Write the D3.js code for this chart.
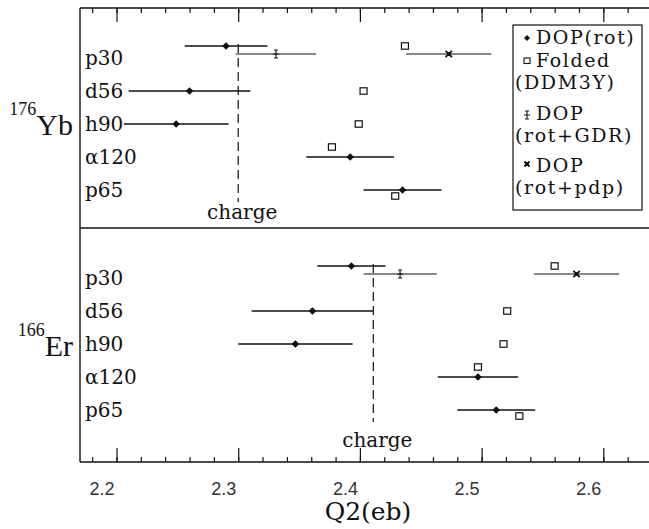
<!DOCTYPE html>
<html>
<head>
<meta charset="utf-8">
<script src="https://cdn.jsdelivr.net/npm/d3@7"></script>
<style>
  html, body { margin: 0; padding: 0; background: #fff; }
  svg { display: block; }
</style>
</head>
<body>
<svg id="chart"></svg>
<script>
// Q2 (eb) of 176Yb and 166Er from several probes

const reactions = ['p30', 'd56', 'h90', 'α120', 'p65'];
const nucleusMass = ['176', '166'];
const nucleusSymbol = ['Yb', 'Er'];
const chargeQ2 = [2.300, 2.411];

// DOP(rot) with errors, Folded (DDM3Y) per reaction
const dopRotYb = [2.290, 2.260, 2.249, 2.392, 2.435];
const dopRotErrYb = [0.034, 0.050, 0.043, 0.036, 0.032];
const foldedYb = [2.437, 2.403, 2.399, 2.377, 2.429];
const dopRotEr = [2.393, 2.361, 2.347, 2.497, 2.512];
const dopRotErrEr = [0.028, 0.050, 0.047, 0.033, 0.032];
const foldedEr = [2.560, 2.521, 2.518, 2.497, 2.531];

// only p30 has the GDR and pdp variants  [Yb, Er]
const dopGdrQ2 = [2.331, 2.433];
const dopGdrErr = [0.033, 0.030];
const dopPdpQ2 = [2.473, 2.578];
const dopPdpErr = [0.035, 0.035];

const xMajorTicks = [2.2, 2.3, 2.4, 2.5, 2.6];
const xMinorTicks = d3.range(109, 132).map(i => i / 50);
const legendLines = [['DOP(rot)'], ['Folded', '(DDM3Y)'], ['DOP', '(rot+GDR)'], ['DOP', '(rot+pdp)']];

const width = 649, height = 529;
const serif = '"DejaVu Serif", serif';
const ink = '#111';

const svg = d3.select('#chart')
  .attr('width', width)
  .attr('height', height);

svg.append('rect').attr('width', width).attr('height', height).attr('fill', '#fff');

const x = d3.scaleLinear().domain([2.17, 2.64]).range([80, 652]);
const frameTop = 8, frameMid = 228, frameBottom = 462;

const panels = [
  { mass: nucleusMass[0], symbol: nucleusSymbol[0], charge: chargeQ2[0],
    dop: dopRotYb, err: dopRotErrYb, folded: foldedYb,
    gdr: dopGdrQ2[0], gdrErr: dopGdrErr[0], pdp: dopPdpQ2[0], pdpErr: dopPdpErr[0],
    rows: [58, 190], chargeY: 219, nameY: 135 },
  { mass: nucleusMass[1], symbol: nucleusSymbol[1], charge: chargeQ2[1],
    dop: dopRotEr, err: dopRotErrEr, folded: foldedEr,
    gdr: dopGdrQ2[1], gdrErr: dopGdrErr[1], pdp: dopPdpQ2[1], pdpErr: dopPdpErr[1],
    rows: [278, 410], chargeY: 447, nameY: 356 }
];

// vertical nudges used in the original to keep markers apart
const dopShift = { 'p30': -12 };
const foldedShift = { 'p30': -12, 'α120': -10, 'p65': 6 };
const variantShift = -4;

const diamond = r => `M0,${-r}L${r},0L0,${r}L${-r},0Z`;

function drawGdr(g, cx, cy) {
  g.append('path')
    .attr('d', `M${cx},${cy - 4}V${cy + 4}M${cx - 2},${cy - 4}H${cx + 2}M${cx - 2},${cy + 4}H${cx + 2}M${cx - 3},${cy}H${cx + 3}`)
    .attr('stroke', ink).attr('stroke-width', 1.1).attr('fill', 'none');
}
function drawPdp(g, cx, cy, r) {
  g.append('path')
    .attr('d', `M${cx - r},${cy - r}L${cx + r},${cy + r}M${cx - r},${cy + r}L${cx + r},${cy - r}`)
    .attr('stroke', ink).attr('stroke-width', 1.8).attr('fill', 'none');
  g.append('rect')
    .attr('x', cx - 1.8).attr('y', cy - 1.8).attr('width', 3.6).attr('height', 3.6).attr('fill', ink);
}

// Frame
const frame = svg.append('g').attr('stroke', ink).attr('stroke-width', 1.4);
frame.append('line').attr('x1', x(2.17)).attr('x2', width).attr('y1', frameTop).attr('y2', frameTop);
frame.append('line').attr('x1', x(2.17)).attr('x2', width).attr('y1', frameMid).attr('y2', frameMid);
frame.append('line').attr('x1', x(2.17)).attr('x2', width).attr('y1', frameBottom).attr('y2', frameBottom);
frame.append('line').attr('x1', x(2.17)).attr('x2', x(2.17)).attr('y1', frameTop).attr('y2', frameBottom);

// Axes (ticks point inward)
function styleAxis(g) {
  g.select('.domain').remove();
  g.selectAll('.tick line').attr('stroke', ink).attr('stroke-width', 1.2);
}
svg.append('g')
  .attr('transform', `translate(0,${frameBottom})`)
  .call(d3.axisBottom(x).tickValues(xMinorTicks).tickSize(-5).tickFormat(''))
  .call(styleAxis);
const xAxis = svg.append('g')
  .attr('transform', `translate(0,${frameBottom})`)
  .call(d3.axisBottom(x).tickValues(xMajorTicks).tickSizeInner(-14).tickSizeOuter(0)
    .tickPadding(20).tickFormat(d3.format('.1f')))
  .call(styleAxis);
xAxis.selectAll('text')
  .attr('dx', -15)
  .style('font-family', '"Liberation Sans", Arial, sans-serif')
  .style('font-size', '18px')
  .style('fill', '#333');

svg.append('g')
  .attr('transform', `translate(0,${frameTop})`)
  .call(d3.axisTop(x).tickValues(xMinorTicks).tickSize(-5).tickFormat(''))
  .call(styleAxis);
svg.append('g')
  .attr('transform', `translate(0,${frameTop})`)
  .call(d3.axisTop(x).tickValues(xMajorTicks).tickSize(-14).tickFormat(''))
  .call(styleAxis);

svg.append('text')
  .attr('x', 368)
  .attr('y', 520)
  .attr('text-anchor', 'middle')
  .style('font-family', serif)
  .style('font-size', '25px')
  .style('fill', ink)
  .text('Q2(eb)');

// Panels
panels.forEach(p => {
  const y = d3.scalePoint().domain(reactions).range(p.rows);
  const g = svg.append('g');

  // nucleus name
  const name = g.append('text')
    .attr('x', 73)
    .attr('y', p.nameY)
    .attr('text-anchor', 'end')
    .style('font-family', '"Liberation Serif", serif')
    .style('fill', ink);
  name.append('tspan').attr('dy', -20).style('font-size', '18px').text(p.mass);
  name.append('tspan').attr('dy', 20).style('font-size', '30px').text(p.symbol);

  // reaction labels
  g.selectAll('.reaction')
    .data(reactions)
    .enter()
    .append('text')
    .attr('class', 'reaction')
    .attr('x', 85)
    .attr('y', d => y(d) + 7)
    .style('font-family', serif)
    .style('font-size', '20px')
    .style('fill', ink)
    .text(d => d);

  // charge reference
  g.append('line')
    .attr('x1', x(p.charge)).attr('x2', x(p.charge))
    .attr('y1', y('p30') - 14).attr('y2', y('p65') + 12)
    .attr('stroke', ink).attr('stroke-width', 1.2)
    .attr('stroke-dasharray', '9,5');
  g.append('text')
    .attr('x', x(p.charge) + 4)
    .attr('y', p.chargeY)
    .attr('text-anchor', 'middle')
    .style('font-family', serif)
    .style('font-size', '20px')
    .style('fill', ink)
    .text('charge');

  // DOP(rot) error bars and diamonds
  const dopY = d => y(d) + (dopShift[d] || 0);
  g.selectAll('.err')
    .data(reactions)
    .enter()
    .append('line')
    .attr('x1', (d, i) => x(p.dop[i] - p.err[i]))
    .attr('x2', (d, i) => x(p.dop[i] + p.err[i]))
    .attr('y1', dopY).attr('y2', dopY)
    .attr('stroke', ink).attr('stroke-width', 1.3);
  g.selectAll('.dop')
    .data(reactions)
    .enter()
    .append('path')
    .attr('d', diamond(3.8))
    .attr('transform', (d, i) => `translate(${x(p.dop[i])},${dopY(d)})`)
    .attr('fill', ink);

  // Folded squares
  g.selectAll('.folded')
    .data(reactions)
    .enter()
    .append('rect')
    .attr('x', (d, i) => x(p.folded[i]) - 3.5)
    .attr('y', d => y(d) + (foldedShift[d] || 0) - 3.2)
    .attr('width', 7).attr('height', 6.4)
    .attr('fill', '#fff')
    .attr('stroke', ink).attr('stroke-width', 1.2);

  // p30 variants
  const vy = y('p30') + variantShift;
  g.append('line')
    .attr('x1', x(p.gdr - p.gdrErr)).attr('x2', x(p.gdr + p.gdrErr))
    .attr('y1', vy).attr('y2', vy)
    .attr('stroke', ink).attr('stroke-width', 1);
  drawGdr(g, x(p.gdr), vy);
  g.append('line')
    .attr('x1', x(p.pdp - p.pdpErr)).attr('x2', x(p.pdp + p.pdpErr))
    .attr('y1', vy).attr('y2', vy)
    .attr('stroke', ink).attr('stroke-width', 1.2);
  drawPdp(g, x(p.pdp), vy, 3.2);
});

// Legend
const legend = svg.append('g');
legend.append('rect')
  .attr('x', 513).attr('y', 25).attr('width', 129).attr('height', 185)
  .attr('fill', '#fff').attr('stroke', ink).attr('stroke-width', 1.2);

const legendBaseline = [[44], [67, 89], [120, 142], [172, 194]];
legendLines.forEach((lines, i) => {
  lines.forEach((t, j) => {
    legend.append('text')
      .attr('x', j === 0 ? 536 : 515)
      .attr('y', legendBaseline[i][j])
      .style('font-family', serif)
      .style('font-size', '19px')
      .style('letter-spacing', '1.6px')
      .style('fill', ink)
      .text(t);
  });
});
const mx = 527;
legend.append('path').attr('d', diamond(3)).attr('transform', `translate(${mx},${legendBaseline[0][0] - 6})`).attr('fill', ink);
legend.append('rect').attr('x', mx - 3).attr('y', legendBaseline[1][0] - 9).attr('width', 6).attr('height', 5.5)
  .attr('fill', '#fff').attr('stroke', ink).attr('stroke-width', 1.1);
drawGdr(legend, mx, legendBaseline[2][0] - 5);
drawPdp(legend, mx, legendBaseline[3][0] - 8, 2.5);
</script>
</body>
</html>
